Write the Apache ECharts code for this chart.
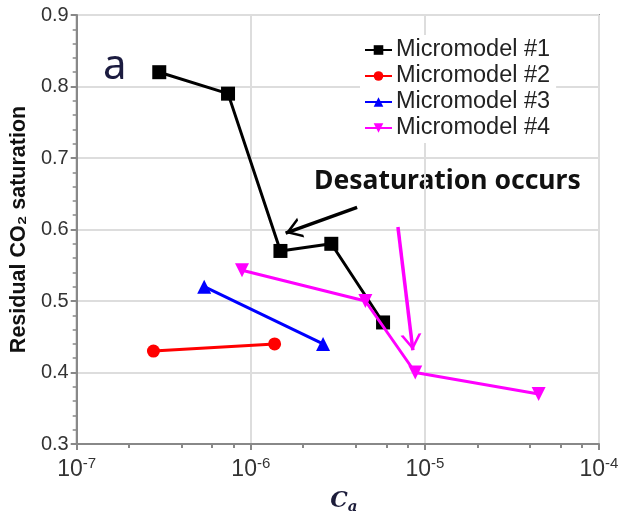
<!DOCTYPE html>
<html>
<head>
<meta charset="utf-8">
<script src="https://cdn.jsdelivr.net/npm/echarts@6/dist/echarts.min.js"></script>
<style>
  html, body { margin: 0; padding: 0; background: #fff; }
  #chart { width: 624px; height: 522px; }
</style>
</head>
<body>
<div id="chart"></div>
<script>
// Ca (capillary number) vs residual CO2 saturation
const mm1 = [[2.98e-7, 0.82], [7.4e-7, 0.79], [1.48e-6, 0.57], [2.9e-6, 0.58], [5.75e-6, 0.47]];
const mm2 = [[2.76e-7, 0.43], [1.37e-6, 0.44]];
const mm3 = [[5.4e-7, 0.52], [2.6e-6, 0.44]];
const mm4 = [[8.9e-7, 0.543], [4.55e-6, 0.50], [8.8e-6, 0.40], [4.5e-5, 0.37]];
const seriesNames = ['Micromodel #1', 'Micromodel #2', 'Micromodel #3', 'Micromodel #4'];

// annotation arrows, in data coordinates [tail, tip]
const arrowBlack = [[4.08e-6, 0.631], [1.585e-6, 0.595]];
const arrowPink = [[7.0e-6, 0.6035], [8.53e-6, 0.431]];

// minor ticks of the log axis: 2, 4, 6, 8 in every decade (as exponents)
const decadeExponents = [-7, -6, -5];
const minorMultipliers = [2, 4, 6, 8];
const minorTickExponents = [];
decadeExponents.forEach(e => minorMultipliers.forEach(m => minorTickExponents.push(e + Math.log10(m))));

const fontSans = '"Liberation Sans", Arial, sans-serif';
// open arrow head; tiny mark at y=-13 puts the tip at the symbol centre
const chevron = 'path://M0,-13 L0.05,-13 L0,-12.95 Z M0,0 L10,13 L7.2,13 L0,3.8 L-7.2,13 L-10,13 Z';

function arrowLine(pts, color) {
    return {
        silent: true,
        animation: false,
        symbol: ['none', chevron],
        symbolSize: [21, 32],
        label: { show: false },
        lineStyle: { color: color, width: 3.5, type: 'solid' },
        data: [[{ coord: pts[0] }, { coord: pts[1] }]]
    };
}

const chart = echarts.init(document.getElementById('chart'));
chart.setOption({
    backgroundColor: '#fff',
    animation: false,
    grid: {
        left: 74, right: 25, top: 15, bottom: 78,
        show: true, borderColor: '#999', borderWidth: 2, backgroundColor: 'transparent'
    },
    legend: {
        orient: 'vertical',
        left: 360, top: 35,
        itemWidth: 27, itemHeight: 12, itemGap: 0,
        backgroundColor: '#fff',
        padding: [2, 6, 2, 4],
        textStyle: { fontFamily: fontSans, fontSize: 23.5, lineHeight: 26, color: '#222', padding: [0, 0, 0, -1] },
        data: seriesNames
    },
    xAxis: [
        {
            type: 'log',
            logBase: 10,
            min: 1e-7, max: 1e-4,
            name: '{c|C}{s|a}',
            nameLocation: 'middle',
            nameGap: 44,
            nameTextStyle: {
                padding: [0, 0, 0, 12],
                rich: {
                    c: { fontFamily: '"DejaVu Serif", serif', fontStyle: 'italic', fontWeight: 'bold', fontSize: 22, color: '#1c1c3a' },
                    s: { fontFamily: '"DejaVu Serif", serif', fontStyle: 'italic', fontWeight: 'bold', fontSize: 15, color: '#1c1c3a', padding: [12, 0, 0, 0] }
                }
            },
            axisLine: { lineStyle: { color: '#888', width: 2 } },
            axisTick: { inside: false, length: 6, lineStyle: { color: '#888', width: 2 } },
            splitLine: { show: true, lineStyle: { color: '#ddd', width: 2 } },
            axisLabel: {
                margin: 12,
                formatter: function (v) {
                    return '{b|10}{e|' + Math.round(Math.log10(v)) + '}';
                },
                rich: {
                    b: { fontFamily: fontSans, fontSize: 23, color: '#333' },
                    e: { fontFamily: fontSans, fontSize: 15, color: '#333', padding: [0, 0, 12, 0] }
                }
            }
        },
        {
            // exponent scale, only used to draw the minor ticks at 2,4,6,8
            type: 'value',
            min: -7, max: -4,
            position: 'bottom',
            offset: 0,
            axisLine: { show: false },
            axisLabel: { show: false },
            splitLine: { show: false },
            axisTick: {
                show: true, inside: false, length: 4,
                customValues: minorTickExponents,
                lineStyle: { color: '#888', width: 2 }
            }
        }
    ],
    yAxis: {
        type: 'value',
        min: 0.3, max: 0.9, interval: 0.1,
        name: 'Residual CO₂ saturation',
        nameLocation: 'middle',
        nameGap: 43,
        nameTextStyle: { fontFamily: fontSans, fontWeight: 'bold', fontSize: 21.5, color: '#111' },
        axisLine: { show: true, lineStyle: { color: '#888', width: 2 } },
        axisTick: { show: true, inside: false, length: 6, lineStyle: { color: '#888', width: 2 } },
        minorTick: { show: true, splitNumber: 5, length: 4, lineStyle: { color: '#888', width: 1.5 } },
        splitLine: { show: true, lineStyle: { color: '#ddd', width: 2 } },
        axisLabel: {
            margin: 8,
            fontFamily: fontSans, fontSize: 20, color: '#333',
            formatter: function (v) { return v.toFixed(1); }
        }
    },
    graphic: [
        { type: 'text', left: 103, top: 46, style: { text: 'a', font: '42px "Noto Sans", sans-serif', fill: '#1c1c40' } },
        { type: 'text', left: 314, top: 168, style: { text: 'Desaturation occurs', font: 'bold 26.5px "Noto Sans", sans-serif', fill: '#111' } }
    ],
    series: [
        {
            name: seriesNames[0], type: 'line', data: mm1,
            symbol: 'rect', symbolSize: 14,
            itemStyle: { color: '#000' }, lineStyle: { color: '#000', width: 3 },
            markLine: arrowLine(arrowBlack, '#000'),
            z: 3
        },
        {
            name: seriesNames[1], type: 'line', data: mm2,
            symbol: 'circle', symbolSize: 13,
            itemStyle: { color: '#ff0000' }, lineStyle: { color: '#ff0000', width: 3 }
        },
        {
            name: seriesNames[2], type: 'line', data: mm3,
            symbol: 'triangle', symbolSize: 14,
            itemStyle: { color: '#0000ff' }, lineStyle: { color: '#0000ff', width: 3 }
        },
        {
            name: seriesNames[3], type: 'line', data: mm4,
            symbol: 'triangle', symbolRotate: 180, symbolSize: 14,
            itemStyle: { color: '#ff00ff' }, lineStyle: { color: '#ff00ff', width: 3 },
            markLine: arrowLine(arrowPink, '#ff00ff'),
            z: 4
        }
    ]
});
</script>
</body>
</html>
